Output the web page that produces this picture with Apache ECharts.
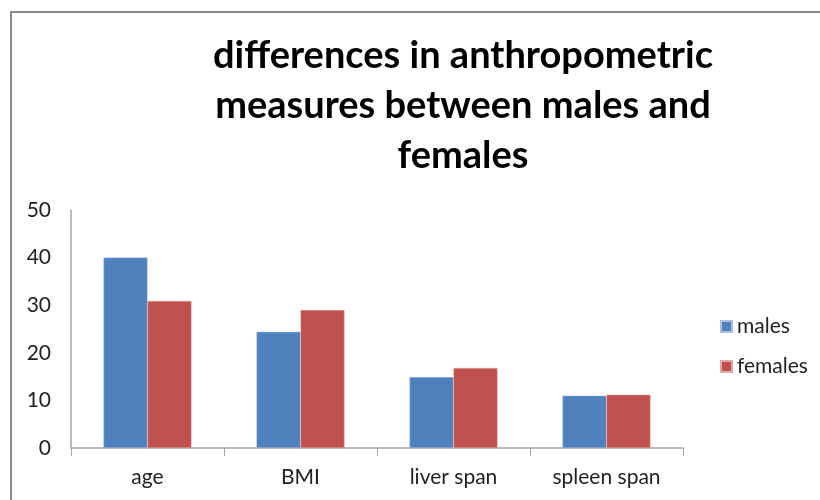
<!DOCTYPE html>
<html>
<head>
<meta charset="utf-8">
<script src="https://cdn.jsdelivr.net/npm/echarts@6/dist/echarts.min.js"></script>
<style>
  html, body { margin: 0; padding: 0; background: #fff; }
  #chart { width: 820px; height: 500px; }
</style>
</head>
<body>
<div id="chart"></div>
<script>
  // values
  var categories = ['age', 'BMI', 'liver span', 'spleen span'];
  var males = [40, 24.4, 14.9, 11];
  var females = [30.9, 29, 16.8, 11.2];
  var yTicks = [0, 10, 20, 30, 40, 50];

  var labelFont = 'Lato, "Open Sans", sans-serif';

  var myChart = echarts.init(document.getElementById('chart'));
  myChart.setOption({
    backgroundColor: '#fff',
    animation: false,
    graphic: [{
      type: 'rect',
      shape: { x: 11, y: 12, width: 830, height: 520 },
      style: { fill: 'none', stroke: '#8c8c8c', lineWidth: 2 },
      silent: true
    }],
    title: {
      text: 'differences in anthropometric\nmeasures between males and\nfemales',
      left: 458,
      textAlign: 'center',
      top: 26,
      textStyle: {
        fontFamily: labelFont,
        fontWeight: 'bold',
        fontSize: 38,
        lineHeight: 50,
        color: '#000'
      }
    },
    legend: {
      orient: 'vertical',
      left: 715,
      top: 311,
      itemWidth: 11,
      itemHeight: 11,
      itemGap: 19,
      icon: 'rect',
      textStyle: { fontFamily: labelFont, fontSize: 21, color: '#222' },
      data: ['males', 'females']
    },
    grid: { left: 71, right: 137, top: 210, bottom: 52 },
    xAxis: {
      type: 'category',
      data: categories,
      axisLine: { lineStyle: { color: '#a6a6a6', width: 1.5 } },
      axisTick: { show: true, length: 8, lineStyle: { color: '#a6a6a6' } },
      axisLabel: { fontFamily: labelFont, fontSize: 21, color: '#222', margin: 19 }
    },
    yAxis: {
      type: 'value',
      min: yTicks[0],
      max: yTicks[yTicks.length - 1],
      interval: 10,
      axisLine: { show: true, lineStyle: { color: '#a6a6a6', width: 1.5 } },
      axisTick: { show: false },
      splitLine: { show: false },
      axisLabel: { fontFamily: labelFont, fontSize: 21, color: '#222', margin: 20 }
    },
    series: [
      {
        name: 'males',
        type: 'bar',
        data: males,
        barWidth: 44,
        barGap: '0%',
        itemStyle: { color: '#4f81bd', borderColor: '#a9c0e0', borderWidth: 0.5 }
      },
      {
        name: 'females',
        type: 'bar',
        data: females,
        barWidth: 44,
        itemStyle: { color: '#c0504d', borderColor: '#e0a8a6', borderWidth: 0.5 }
      }
    ]
  });
</script>
</body>
</html>
